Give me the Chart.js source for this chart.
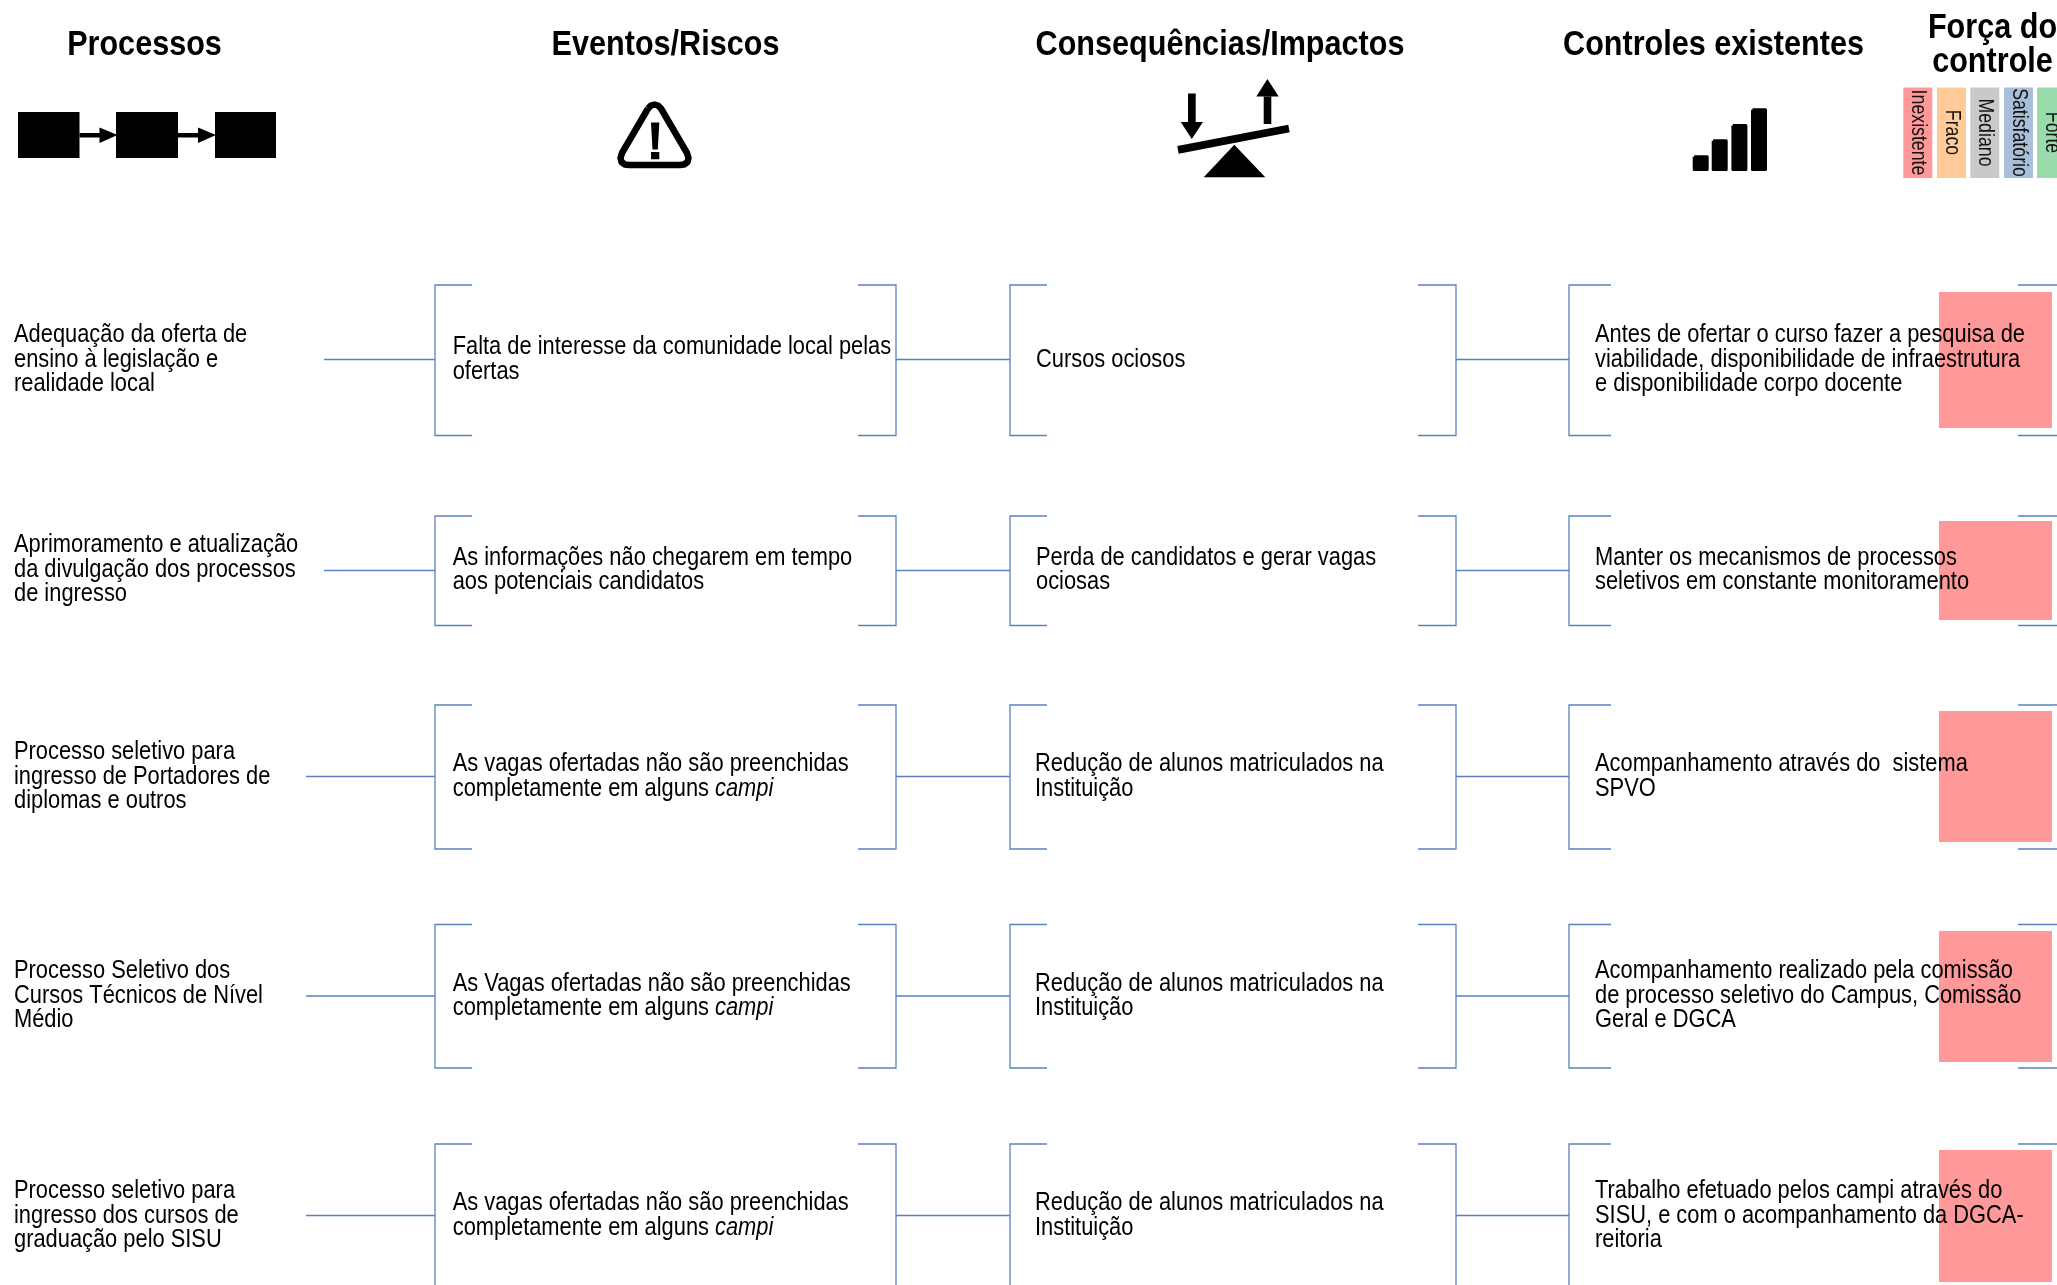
<!DOCTYPE html>
<html lang="pt">
<head>
    <meta charset="UTF-8">
    <title>Processos, riscos e controles</title>
    <script src="https://cdn.jsdelivr.net/npm/chart.js"></script>
    <style>
        body { margin: 0; background: #fff; overflow: hidden; }
        canvas { display: block; }
    </style>
</head>
<body>
    <canvas id="riskChart" width="2057" height="1285"></canvas>
    <script>
// column titles and scale of control strength
const headers = ["Processos", "Eventos/Riscos", "Consequências/Impactos", "Controles existentes"];
const strengthTitle = ["Força do", "controle"];
const strengthLevels = ["Inexistente", "Fraco", "Mediano", "Satisfatório", "Forte"];
const strengthColors = ["#ff9999", "#ffcc99", "#c9c9c9", "#a9bfd9", "#99dbab"];

// one entry per row, lines as broken in the picture, *x* means italic
const processos = [
    ["Adequação da oferta de", "ensino à legislação e", "realidade local"],
    ["Aprimoramento e atualização", "da divulgação dos processos", "de ingresso"],
    ["Processo seletivo para", "ingresso de Portadores de", "diplomas e outros"],
    ["Processo Seletivo dos", "Cursos Técnicos de Nível", "Médio"],
    ["Processo seletivo para", "ingresso dos cursos de", "graduação pelo SISU"]
];
const eventos = [
    ["Falta de interesse da comunidade local pelas", "ofertas"],
    ["As informações não chegarem em tempo", "aos potenciais candidatos"],
    ["As vagas ofertadas não são preenchidas", "completamente em alguns *campi*"],
    ["As Vagas ofertadas não são preenchidas", "completamente em alguns *campi*"],
    ["As vagas ofertadas não são preenchidas", "completamente em alguns *campi*"]
];
const consequencias = [
    ["Cursos ociosos"],
    ["Perda de candidatos e gerar vagas", "ociosas"],
    ["Redução de alunos matriculados na", "Instituição"],
    ["Redução de alunos matriculados na", "Instituição"],
    ["Redução de alunos matriculados na", "Instituição"]
];
const controles = [
    ["Antes de ofertar o curso fazer a pesquisa de", "viabilidade, disponibilidade de infraestrutura", "e disponibilidade corpo docente"],
    ["Manter os mecanismos de processos", "seletivos em constante monitoramento"],
    ["Acompanhamento através do  sistema", "SPVO"],
    ["Acompanhamento realizado pela comissão", "de processo seletivo do Campus, Comissão", "Geral e DGCA"],
    ["Trabalho efetuado pelos campi através do", "SISU, e com o acompanhamento da DGCA-", "reitoria"]
];
// strength given to each row's control (index in strengthLevels)
const rowStrength = [0, 0, 0, 0, 0];

// layout in axis units (the axes run 1:1 with the page)
const rowTop = [285, 516, 705, 924.5, 1144];
const rowBottom = [435.5, 625.5, 849, 1068, 1287];
const rowMid = [359.5, 570.5, 776.5, 996, 1215.5];
const boxTop = [292, 521, 711, 931, 1150];
const boxBottom = [428, 620, 842, 1062, 1282];
const col1First = [342, 552, 759, 978, 1198];
const col2First = [354, 564.5, 771, 990.5, 1210];
const col3First = [367, 564.5, 771, 990.5, 1210];
const col4First = [342, 564.5, 771, 978, 1198];
const connectorStart = [324, 324, 306, 306, 306];
const col3Text = [1036, 1036, 1035, 1035, 1035];

const lineColor = "#5a82bf";
const datasets = [];

function shape(points, color, extra) {
    datasets.push(Object.assign({
        data: points.map(p => ({ x: p[0], y: p[1] })),
        showLine: true, pointRadius: 0, tension: 0,
        borderColor: color, borderWidth: 0, backgroundColor: color, fill: "shape"
    }, extra));
}
function rect(x0, y0, x1, y1, color, extra) {
    shape([[x0, y0], [x1, y0], [x1, y1], [x0, y1], [x0, y0]], color, extra);
}
function stroke(points, width, extra) {
    shape(points, lineColor, Object.assign({ fill: false, borderWidth: width }, extra));
}

// brackets and connectors
rowTop.forEach((top, i) => {
    const bot = rowBottom[i], mid = rowMid[i];
    stroke([[472, top], [435, top], [435, bot], [472, bot]], 1.3);
    stroke([[858, top], [896, top], [896, bot], [858, bot]], 1.3);
    stroke([[1047, top], [1010, top], [1010, bot], [1047, bot]], 1.3);
    stroke([[1418, top], [1456, top], [1456, bot], [1418, bot]], 1.3);
    stroke([[1611, top], [1569, top], [1569, bot], [1611, bot]], 1.3);
    stroke([[2018, top], [2060, top]], 1.3);
    stroke([[2018, bot], [2060, bot]], 1.3);
    stroke([[connectorStart[i], mid], [435, mid]], 1.3);
    stroke([[896, mid], [1010, mid]], 1.3);
    stroke([[1456, mid], [1569, mid]], 1.3);
    rect(1939, boxTop[i], 2052, boxBottom[i], strengthColors[rowStrength[i]]);
});

// icon: process chain
[[18, 79.5], [116, 178], [215, 276]].forEach(b => rect(b[0], 112, b[1], 158, "#000"));
[79.5, 178].forEach(x => {
    rect(x, 133, x + 22, 137.5, "#000");
    shape([[x + 20, 127.5], [x + 38, 135], [x + 20, 143], [x + 20, 127.5]], "#000");
});

// icon: warning, extra points at the corners give the soft triangle
stroke([[648, 108.5], [651, 105.5], [654.5, 104.5], [658, 105.5], [661, 108.5],
    [687, 153], [688.5, 158], [687.5, 162], [684, 164.5], [680, 165],
    [629, 165], [625, 164.5], [621.5, 162], [620.5, 158], [622, 153], [648, 108.5]], 6.5,
    { borderColor: "#000", borderJoinStyle: "round" });
shape([[651, 122.5], [659.3, 122.5], [657.8, 149.5], [652.5, 149.5], [651, 122.5]], "#000");
rect(651, 152, 659.3, 159.3, "#000");

// icon: balance
rect(1188, 93.5, 1195.7, 122, "#000");
shape([[1180.7, 122], [1203, 122], [1191.8, 139], [1180.7, 122]], "#000");
rect(1263.7, 96.5, 1271.3, 124, "#000");
shape([[1256.3, 96.5], [1278.7, 96.5], [1267.4, 79], [1256.3, 96.5]], "#000");
shape([[1177.3, 146], [1178.7, 153.7], [1289.7, 132.3], [1288.3, 124.7], [1177.3, 146]], "#000");
shape([[1234.3, 144.7], [1265.3, 177.3], [1203.7, 177.3], [1234.3, 144.7]], "#000");

// icon: signal bars
[[1692.7, 155.3], [1711.7, 139.3], [1731.4, 124], [1751, 108.3]].forEach(b => {
    rect(b[0] + 1.5, b[1] + 1.5, b[0] + 14.5, 169.5, "#000",
        { borderWidth: 3, borderColor: "#000", borderJoinStyle: "round" });
});

// strength legend swatches
const swatchX = [1903.3, 1937, 1970.3, 2004, 2037];
strengthLevels.forEach((s, i) => {
    rect(swatchX[i], 87.5, swatchX[i] + 29, 178, strengthColors[i]);
});

// the picture's text is a squeezed sans, so it is drawn narrowed on x
const regular = '25px "Liberation Sans"';
const italic = 'italic 25px "Liberation Sans"';
const titleFont = 'bold 35px "Liberation Sans"';
const narrow = 0.874;

function drawLine(ctx, text, x, y) {
    ctx.save();
    ctx.translate(x, y);
    ctx.scale(narrow, 1);
    let pos = 0;
    text.split("*").forEach((part, i) => {
        ctx.font = i % 2 ? italic : regular;
        ctx.fillText(part, pos, 0);
        pos += ctx.measureText(part).width;
    });
    ctx.restore();
}

// all text goes on top of the shapes, placed through the scales
const textPlugin = {
    id: "diagramText",
    afterDatasetsDraw(chart) {
        const ctx = chart.ctx, sx = chart.scales.x, sy = chart.scales.y;
        ctx.save();
        ctx.fillStyle = "#000";
        ctx.textBaseline = "alphabetic";
        ctx.textAlign = "left";
        const block = (rows, xs, firsts) => rows.forEach((lines, r) => {
            lines.forEach((l, n) => drawLine(ctx,
                l,
                sx.getPixelForValue(Array.isArray(xs) ? xs[r] : xs),
                sy.getPixelForValue(firsts[r] + n * 24.5)));
        });
        block(processos, 14, col1First);
        block(eventos, 452.7, col2First);
        block(consequencias, col3Text, col3First);
        block(controles, 1595, col4First);

        ctx.textAlign = "center";
        const title = (t, x, y) => {
            ctx.save();
            ctx.translate(sx.getPixelForValue(x), sy.getPixelForValue(y));
            ctx.scale(narrow, 1);
            ctx.font = titleFont;
            ctx.fillText(t, 0, 0);
            ctx.restore();
        };
        const headerX = [144.5, 665.5, 1220, 1713.5];
        headers.forEach((h, i) => title(h, headerX[i], 54.5));
        strengthTitle.forEach((t, i) => title(t, 1992.5, 38 + i * 34));

        ctx.fillStyle = "#111";
        strengthLevels.forEach((s, i) => {
            ctx.save();
            ctx.translate(sx.getPixelForValue(swatchX[i] + 14.5), sy.getPixelForValue(132.5));
            ctx.rotate(Math.PI / 2);
            ctx.scale(0.825, 1);
            ctx.font = '21.5px "Liberation Sans"';
            ctx.textBaseline = "middle";
            ctx.fillText(s, 0, 0);
            ctx.restore();
        });
        ctx.restore();
    }
};

new Chart(document.getElementById("riskChart").getContext("2d"), {
    type: "scatter",
    data: { datasets: datasets },
    plugins: [textPlugin],
    options: {
        responsive: false,
        animation: false,
        layout: { padding: 0 },
        plugins: { legend: { display: false }, tooltip: { enabled: false } },
        scales: {
            x: { type: "linear", min: 0, max: 2057, display: false },
            y: { type: "linear", min: 0, max: 1285, reverse: true, display: false }
        }
    }
});
    </script>
</body>
</html>
